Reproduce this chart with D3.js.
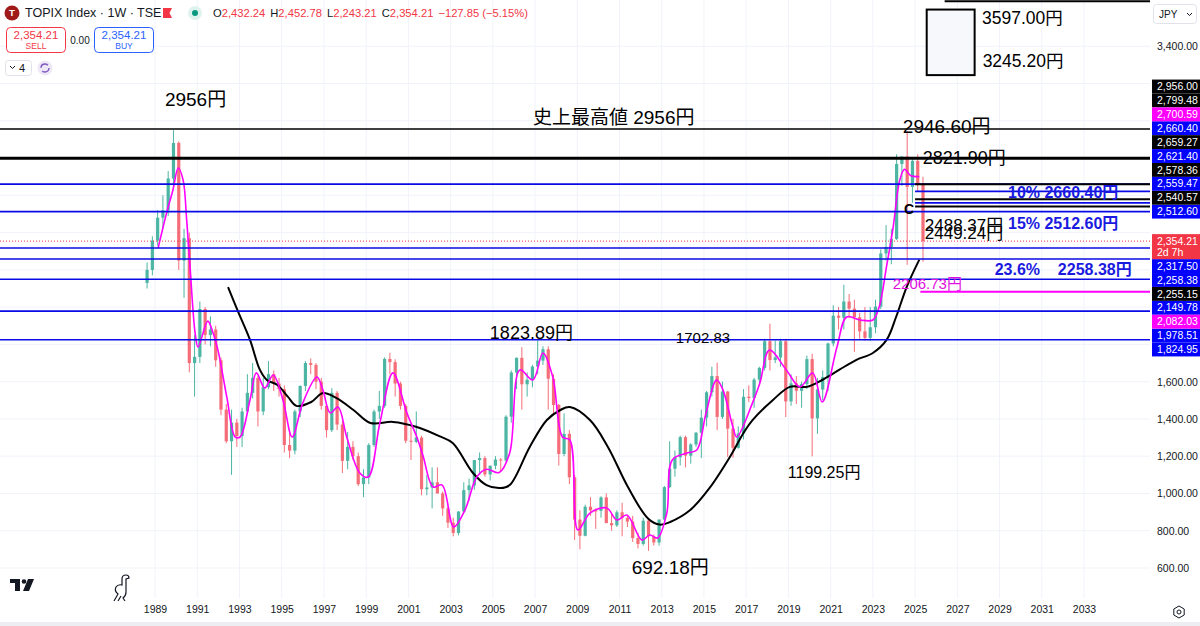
<!DOCTYPE html>
<html>
<head>
<meta charset="utf-8">
<title>TOPIX Index 1W</title>
<script src="https://cdn.jsdelivr.net/npm/d3@7/dist/d3.min.js"></script>
<style>
  body { margin: 0; background: #fff; }
  svg { display: block; font-family: "Liberation Sans", "Noto Sans CJK JP", sans-serif; }
</style>
</head>
<body>
<svg id="chart" width="1200" height="626"></svg>
<script>
// bars, one per quarter, starting Jul 1988
const firstQuarter = 1988.5;

const opens = [
  2130, 2200,
  2357, 2480, 2520, 2690,   // 1989
  2881, 2250, 2370, 1700,
  1733, 1990, 1850, 1880,
  1715, 1450, 1280, 1380,
  1308, 1440, 1540, 1620,
  1440, 1570, 1640, 1590,
  1560, 1260, 1230, 1440,   // 1995
  1577, 1700, 1690, 1600,
  1470, 1340, 1540, 1370,
  1175, 1250, 1200, 1050,
  1086, 1260, 1440, 1470,
  1722, 1705, 1590, 1470,   // 2000
  1283, 1277, 1300, 1023,
  1032, 1060, 1000, 920,
  843, 788, 903, 1018,
  1043, 1179, 1190, 1102,
  1149, 1182, 1177, 1412,   // 2005
  1649, 1728, 1586, 1610,
  1681, 1713, 1774, 1616,
  1475, 1212, 1320, 1087,
  860, 773, 929, 909,
  907, 979, 841, 829,       // 2010
  899, 869, 849, 761,
  729, 854, 770, 737,
  860, 1034, 1133, 1194,
  1302, 1203, 1263, 1326,
  1407, 1543, 1630, 1411,   // 2015
  1547, 1348, 1245, 1322,
  1519, 1512, 1611, 1674,
  1817, 1716, 1730, 1817,
  1494, 1591, 1551, 1587,
  1721, 1403, 1558, 1625,   // 2020
  1805, 1954, 1943, 2030,
  1992, 1946, 1870, 1835,
  1892, 2003, 2288, 2323,
  2366, 2768, 2809, 2645,
  2785, 2659
];
const highs = [
  2240, 2380,
  2520, 2600, 2730, 2950,
  2890, 2420, 2400, 1850,
  2030, 2000, 1950, 1900,
  1730, 1480, 1450, 1400,
  1460, 1640, 1700, 1630,
  1620, 1710, 1660, 1620,
  1580, 1330, 1450, 1580,
  1710, 1725, 1700, 1620,
  1480, 1565, 1550, 1390,
  1330, 1280, 1220, 1130,
  1270, 1450, 1550, 1730,
  1755, 1720, 1600, 1480,
  1360, 1440, 1310, 1100,
  1140, 1140, 1010, 930,
  870, 905, 1060, 1080,
  1180, 1220, 1200, 1150,
  1200, 1190, 1420, 1660,
  1730, 1785, 1650, 1690,
  1820, 1790, 1790, 1640,
  1480, 1430, 1340, 1100,
  910, 940, 980, 920,
  985, 1000, 890, 910,
  950, 880, 880, 790,
  870, 870, 780, 860,
  1040, 1280, 1230, 1310,
  1310, 1270, 1330, 1450,
  1550, 1680, 1702, 1600,
  1550, 1400, 1360, 1560,
  1580, 1620, 1680, 1830,
  1911, 1820, 1830, 1830,
  1640, 1630, 1600, 1740,
  1750, 1620, 1660, 1810,
  2010, 2000, 2120, 2070,
  2040, 1970, 2000, 2000,
  2040, 2310, 2440, 2420,
  2820, 2800, 2946.6, 2800,
  2820, 2700
];
const lows = [
  2100, 2170,
  2330, 2420, 2490, 2640,
  2200, 2050, 1650, 1520,
  1700, 1800, 1790, 1680,
  1420, 1270, 1100, 1250,
  1250, 1430, 1510, 1360,
  1420, 1560, 1550, 1520,
  1220, 1190, 1210, 1410,
  1550, 1640, 1560, 1450,
  1300, 1330, 1340, 1110,
  1130, 1180, 1040, 980,
  1050, 1250, 1400, 1460,
  1640, 1520, 1450, 1270,
  1180, 1270, 990, 990,
  920, 1000, 880, 815,
  770, 775, 900, 960,
  1020, 1100, 1090, 1070,
  1130, 1120, 1170, 1380,
  1560, 1450, 1520, 1570,
  1640, 1690, 1450, 1420,
  1150, 1200, 1050, 750,
  700, 770, 880, 810,
  870, 840, 800, 820,
  770, 820, 740, 705,
  720, 692, 720, 720,
  850, 1030, 1090, 1150,
  1140, 1160, 1250, 1190,
  1360, 1520, 1340, 1400,
  1196, 1192, 1240, 1290,
  1490, 1460, 1590, 1660,
  1660, 1700, 1680, 1410,
  1470, 1480, 1460, 1560,
  1199, 1320, 1500, 1550,
  1790, 1880, 1880, 1940,
  1760, 1830, 1820, 1820,
  1860, 1990, 2250, 2230,
  2360, 2650, 2227, 2560,
  2620, 2243.21
];
const closes = [
  2200, 2357,
  2480, 2520, 2690, 2881,
  2250, 2370, 1700, 1733,
  1990, 1850, 1880, 1715,
  1450, 1280, 1380, 1308,
  1440, 1540, 1620, 1440,
  1570, 1640, 1590, 1560,
  1260, 1230, 1440, 1577,
  1700, 1690, 1600, 1470,
  1340, 1540, 1370, 1175,
  1250, 1200, 1050, 1086,
  1260, 1440, 1470, 1722,
  1705, 1590, 1470, 1283,
  1277, 1300, 1023, 1032,
  1060, 1000, 920, 843,
  788, 903, 1018, 1043,
  1179, 1190, 1102, 1149,
  1182, 1177, 1412, 1649,
  1728, 1586, 1610, 1681,
  1713, 1774, 1616, 1475,
  1212, 1320, 1087, 860,
  773, 929, 909, 907,
  979, 841, 829, 899,
  869, 849, 761, 729,
  854, 770, 737, 860,
  1034, 1133, 1194, 1302,
  1203, 1263, 1326, 1407,
  1543, 1630, 1411, 1547,
  1348, 1245, 1322, 1519,
  1512, 1611, 1674, 1817,
  1716, 1730, 1817, 1494,
  1591, 1551, 1587, 1721,
  1403, 1558, 1625, 1805,
  1954, 1943, 2030, 1992,
  1946, 1870, 1835, 1892,
  2003, 2288, 2323, 2366,
  2768, 2809, 2645, 2785,
  2659, 2354.21
];

// magenta (short) and black (long) moving averages, read at points along the curves
const fastMaYears = [1989.15, 1989.55, 1989.85, 1990.1, 1990.33, 1990.5, 1990.66, 1990.9, 1991.04, 1991.5,
  1991.75, 1992.0, 1992.4, 1992.8, 1993.03, 1993.5, 1993.8, 1994.2, 1994.6, 1995.06,
  1995.5, 1996.0, 1996.67, 1996.95, 1997.3, 1997.67, 1998.08, 1998.7, 1999.1, 1999.65,
  2000.27, 2000.93, 2001.4, 2001.7, 2002.17, 2002.6, 2003.15, 2003.68, 2004.24, 2004.7,
  2005.3, 2005.8, 2006.28, 2006.9, 2007.37, 2007.84, 2008.3, 2008.65, 2009.03, 2009.6,
  2010.4, 2010.87, 2011.35, 2012.06, 2012.44, 2012.8, 2013.24, 2013.5, 2014.2, 2014.66,
  2015.1, 2015.6, 2015.9, 2016.37, 2016.55, 2017.3, 2017.65, 2018.1, 2018.9, 2019.55,
  2020.15, 2020.6, 2021.3, 2021.76, 2022.4, 2023.0, 2023.3, 2023.65, 2023.95, 2024.27,
  2024.5, 2024.8, 2025.2];
const fastMaValues = [2318, 2506, 2629, 2747, 2683, 2468, 2216, 1861, 1786, 1925,
  1861, 1760, 1518, 1303, 1303, 1502, 1647, 1566, 1636, 1502,
  1303, 1486, 1625, 1556, 1432, 1464, 1303, 1110, 1088, 1378,
  1647, 1432, 1303, 1200, 1035, 1045, 820, 911, 1088, 1130,
  1112, 1217, 1663, 1609, 1754, 1625, 1303, 1287, 804, 895,
  922, 858, 884, 750, 777, 761, 895, 1180, 1217, 1233,
  1432, 1609, 1556, 1357, 1303, 1486, 1593, 1770, 1663, 1572,
  1647, 1491, 1786, 1947, 1931, 1931, 2001, 2220, 2420, 2680,
  2740, 2705, 2700.59];

const slowMaYears = [1992.46, 1992.9, 1993.5, 1993.97, 1994.3, 1994.8, 1995.3, 1995.7, 1996.4, 1996.95,
  1997.6, 1998.4, 1999.2, 2000.27, 2001.4, 2002.5, 2003.1, 2004.06, 2004.7, 2005.35,
  2005.8, 2006.75, 2007.56, 2008.2, 2008.65, 2009.6, 2010.45, 2011.4, 2012.35, 2012.9,
  2013.4, 2014.35, 2015.25, 2016.25, 2016.9, 2017.3, 2018.27, 2019.07, 2019.87, 2020.6,
  2021.4, 2022.2, 2023.0, 2023.65, 2024.1, 2024.6, 2025.2];
const slowMaValues = [2108, 1985, 1824, 1663, 1609, 1582, 1518, 1470, 1491, 1539,
  1512, 1448, 1378, 1384, 1357, 1306, 1271, 1110, 1045, 1029,
  1045, 1250, 1394, 1448, 1464, 1394, 1250, 1035, 866, 833,
  847, 911, 1027, 1200, 1330, 1394, 1502, 1572, 1572, 1609,
  1663, 1716, 1754, 1824, 1947, 2108, 2255.15];

// horizontal drawings
const blackLevels = [2956.00, 2799.48];
const blueLevels = [2660.40, 2512.60, 2317.50, 2258.38, 2149.78, 1978.51, 1824.95];
const blackRays = [2659.27, 2578.36, 2540.57];
const blueRays = [2621.40, 2559.47];
const magentaRays = [2082.03];
const rayFrom = 2025.0;
const magentaRayFrom = 2025.25;

// rectangle drawn in the future area
const boxYears = [2025.55, 2027.82];
const boxPrices = [3597.00, 3245.20];
const topLine = [2026.4, 3642];

// header values of the last weekly bar
const symbolName = 'TOPIX Index';
const interval = '1W';
const exchange = 'TSE';
const lastBar = [2432.24, 2452.78, 2243.21, 2354.21];
const lastChange = -127.85;
const lastChangePct = -5.15;
const timeLeft = '2d 7h';

const yearTicks = d3.range(1989, 2034, 2);
const priceTicks = d3.range(600, 3401, 200);

// text notes: [text, year, price, font size]
const blackNotes = [
  ['2956円', 1989.47, 3117, 19],
  ['史上最高値 2956円', 2006.9, 3020, 19],
  ['2946.60円', 2024.42, 2972, 19],
  ['2821.90円', 2025.36, 2800, 18],
  ['2488.37円', 2025.46, 2441, 17],
  ['2449.24円', 2025.46, 2398, 17],
  ['1823.89円', 2004.86, 1861, 18],
  ['1702.83', 2013.67, 1834, 15],
  ['692.18円', 2011.58, 605, 19],
  ['1199.25円', 2018.97, 1115, 16],
  ['3597.00円', 2028.17, 3552, 17.5],
  ['3245.20円', 2028.2, 3321, 17.5]
];
const blueNotes = [
  ['10% 2660.40円', 2029.4, 2618],
  ['15% 2512.60円', 2029.4, 2451],
  ['23.6%\u00a0\u00a0\u00a0\u00a02258.38円', 2028.77, 2205]
];
const magentaNotes = [['2206.73円', 2023.94, 2124]];

// ---------------------------------------------------------------

const svg = d3.select('#chart');
const plotRight = 1150, plotBottom = 598;
const fmt = d3.format(',.2f');

const x = d3.scaleLinear().domain([1989, 2033]).range([155, 1084]);
const y = d3.scaleLinear().domain([600, 2956]).range([568, 129]);

svg.append('defs').append('clipPath').attr('id', 'plotClip')
  .append('rect').attr('x', 0).attr('y', 0).attr('width', plotRight).attr('height', plotBottom);

// grid
const grid = svg.append('g');
grid.selectAll('.hg').data(priceTicks).join('line')
  .attr('x1', 0).attr('x2', plotRight)
  .attr('y1', d => y(d)).attr('y2', d => y(d))
  .attr('stroke', '#f0f3fa');
grid.selectAll('.vg').data(yearTicks).join('line')
  .attr('x1', d => x(d)).attr('x2', d => x(d))
  .attr('y1', 0).attr('y2', plotBottom)
  .attr('stroke', '#f0f3fa');

const plot = svg.append('g').attr('clip-path', 'url(#plotClip)');

// candles
const bars = closes.map((c, i) => ({
  t: firstQuarter + i * 0.25 + 0.125,
  o: opens[i], h: highs[i], l: lows[i], c: c
}));
const bodyW = 3.2;
const candle = plot.append('g').attr('opacity', 0.72)
  .selectAll('g').data(bars).join('g')
  .attr('fill', d => d.c >= d.o ? '#089981' : '#f23645')
  .attr('stroke', d => d.c >= d.o ? '#089981' : '#f23645');
candle.append('line')
  .attr('x1', d => x(d.t)).attr('x2', d => x(d.t))
  .attr('y1', d => y(d.h)).attr('y2', d => y(d.l))
  .attr('stroke-width', 1);
candle.append('rect')
  .attr('x', d => x(d.t) - bodyW / 2)
  .attr('y', d => y(Math.max(d.o, d.c)))
  .attr('width', bodyW)
  .attr('height', d => Math.max(1, Math.abs(y(d.o) - y(d.c))))
  .attr('stroke', 'none');

// moving averages
const maLine = d3.line().x(d => x(d[0])).y(d => y(d[1])).curve(d3.curveCatmullRom.alpha(0.5));
plot.append('path').datum(d3.zip(slowMaYears, slowMaValues))
  .attr('d', maLine).attr('fill', 'none').attr('stroke', '#000').attr('stroke-width', 2);
plot.append('path').datum(d3.zip(fastMaYears, fastMaValues))
  .attr('d', maLine).attr('fill', 'none').attr('stroke', '#f0f').attr('stroke-width', 1.6);

// current price dotted line
const lastClose = closes[closes.length - 1];
plot.append('line')
  .attr('x1', 0).attr('x2', plotRight)
  .attr('y1', y(lastClose)).attr('y2', y(lastClose))
  .attr('stroke', '#f23645').attr('stroke-dasharray', '1,2');

// horizontal lines and rays
const hLine = (levels, from, color, width) => {
  plot.append('g').selectAll('line').data(levels).join('line')
    .attr('x1', from === null ? 0 : x(from)).attr('x2', plotRight)
    .attr('y1', d => y(d)).attr('y2', d => y(d))
    .attr('stroke', color).attr('stroke-width', width);
};
hLine(blueLevels, null, '#0a0ae6', 1.6);
hLine([blackLevels[0]], null, '#000', 1.6);
hLine([blackLevels[1]], null, '#000', 3);
hLine(blueRays, rayFrom, '#0a0ae6', 1.6);
hLine(blackRays, rayFrom, '#000', 2);
hLine(magentaRays, magentaRayFrom, '#f0f', 2);

// rectangle drawing
plot.append('rect')
  .attr('x', x(boxYears[0])).attr('y', y(boxPrices[0]))
  .attr('width', x(boxYears[1]) - x(boxYears[0]))
  .attr('height', y(boxPrices[1]) - y(boxPrices[0]))
  .attr('fill', '#f7f8fb').attr('stroke', '#000').attr('stroke-width', 2);
plot.append('line')
  .attr('x1', x(topLine[0])).attr('x2', plotRight)
  .attr('y1', y(topLine[1])).attr('y2', y(topLine[1]))
  .attr('stroke', '#000').attr('stroke-width', 2);

// notes
const notes = plot.append('g');
notes.selectAll('.bn').data(blackNotes).join('text')
  .attr('x', d => x(d[1])).attr('y', d => y(d[2])).attr('dy', '0.35em')
  .attr('font-size', d => d[3]).attr('fill', '#000')
  .text(d => d[0]);
notes.selectAll('.bl').data(blueNotes).join('text')
  .attr('x', d => x(d[1])).attr('y', d => y(d[2])).attr('dy', '0.35em')
  .attr('font-size', 16).attr('font-weight', 'bold').attr('fill', '#1a1ae0')
  .text(d => d[0]);
notes.selectAll('.mg').data(magentaNotes).join('text')
  .attr('x', d => x(d[1])).attr('y', d => y(d[2])).attr('dy', '0.35em')
  .attr('font-size', 15).attr('fill', '#e010e0')
  .text(d => d[0]);
notes.append('text')
  .attr('x', x(2024.47)).attr('y', y(2527)).attr('dy', '0.35em')
  .attr('font-size', 14).attr('font-weight', 'bold').attr('fill', '#000')
  .text('C');

// price tags on the axis, stacked away from the current price tag
const tags = [
  ...blackLevels.map(v => ({ v, fill: '#000' })),
  ...blueLevels.map(v => ({ v, fill: '#0000ff' })),
  ...blackRays.map(v => ({ v, fill: '#000' })),
  ...blueRays.map(v => ({ v, fill: '#0000ff' })),
  ...magentaRays.map(v => ({ v, fill: '#ff00ff' })),
  { v: fastMaValues[fastMaValues.length - 1], fill: '#ff00ff' },
  { v: slowMaValues[slowMaValues.length - 1], fill: '#000' }
];
const tagH = 13.9;
const curY = y(lastClose);
const curTop = curY - 7, curBottom = curY + 18;
const above = tags.filter(d => d.v > lastClose).sort((a, b) => a.v - b.v);
const below = tags.filter(d => d.v < lastClose).sort((a, b) => b.v - a.v);
let edge = curTop - tagH / 2;
above.forEach(d => { d.y = Math.min(y(d.v), edge); edge = d.y - tagH; });
edge = curBottom + tagH / 2;
below.forEach(d => { d.y = Math.max(y(d.v), edge); edge = d.y + tagH; });

// price axis, hiding tick labels that sit under a tag
const tagTop = d3.min(tags, d => d.y) - tagH / 2;
const tagBottom = d3.max(tags, d => d.y) + tagH / 2;
const visibleTicks = priceTicks.filter(v => y(v) + 5 < tagTop || y(v) - 5 > tagBottom ||
  (y(v) + 4 < curTop && y(v) - 5 > d3.max(above, d => d.y) + tagH / 2));
const yAxis = svg.append('g')
  .attr('transform', `translate(${plotRight + 3},0)`)
  .call(d3.axisRight(y).tickValues(visibleTicks).tickFormat(fmt).tickSize(0).tickPadding(4));
yAxis.select('.domain').remove();
yAxis.attr('font-family', null).attr('font-size', 10.5);
yAxis.selectAll('text').attr('fill', '#131722');

// time axis
const xAxis = svg.append('g')
  .attr('transform', 'translate(0,606)')
  .call(d3.axisBottom(x).tickValues(yearTicks).tickFormat(d3.format('d')).tickSize(0).tickPadding(0));
xAxis.select('.domain').remove();
xAxis.attr('font-family', null).attr('font-size', 10.5);
xAxis.selectAll('text').attr('fill', '#131722');

const tagG = svg.append('g').selectAll('g').data(tags).join('g');
tagG.append('rect')
  .attr('x', plotRight + 2).attr('y', d => d.y - tagH / 2)
  .attr('width', 48).attr('height', tagH).attr('fill', d => d.fill);
tagG.append('text')
  .attr('x', plotRight + 7).attr('y', d => d.y).attr('dy', '0.35em')
  .attr('font-size', 10.5).attr('fill', '#fff')
  .text(d => fmt(d.v));

const curTag = svg.append('g');
curTag.append('rect')
  .attr('x', plotRight + 2).attr('y', curTop)
  .attr('width', 48).attr('height', curBottom - curTop).attr('fill', '#f23645');
curTag.append('text')
  .attr('x', plotRight + 7).attr('y', curY).attr('dy', '0.35em')
  .attr('font-size', 10.5).attr('fill', '#fff').text(fmt(lastClose));
curTag.append('text')
  .attr('x', plotRight + 7).attr('y', curY + 11).attr('dy', '0.35em')
  .attr('font-size', 10.5).attr('fill', '#fff').text(timeLeft);

// currency selector
svg.append('rect').attr('x', 1153.5).attr('y', 4.5).attr('width', 43).attr('height', 19).attr('rx', 3)
  .attr('fill', '#fff').attr('stroke', '#e0e3eb');
svg.append('text').attr('x', 1159).attr('y', 14).attr('dy', '0.35em')
  .attr('font-size', 10).attr('fill', '#131722').text('JPY');
svg.append('path').attr('d', 'M1187,13 l2.5,2.5 l2.5,-2.5')
  .attr('fill', 'none').attr('stroke', '#131722').attr('stroke-width', 1);

// header
const head = svg.append('g');
head.append('circle').attr('cx', 12).attr('cy', 13).attr('r', 7.5).attr('fill', '#a11a1a');
head.append('text').attr('x', 12).attr('y', 13).attr('dy', '0.36em').attr('text-anchor', 'middle')
  .attr('font-size', 9.5).attr('font-weight', 'bold').attr('fill', '#fff').text('T');
head.append('text').attr('x', 25).attr('y', 13).attr('dy', '0.35em')
  .attr('font-size', 12.5).attr('fill', '#131722')
  .text(`${symbolName} · ${interval} · ${exchange}`);
head.append('path').attr('d', 'M163,8 h9 l-2.5,5 l2.5,5 h-9 z').attr('fill', '#f23645');
head.append('circle').attr('cx', 195).attr('cy', 13).attr('r', 7).attr('fill', '#dff3ee');
head.append('circle').attr('cx', 195).attr('cy', 13).attr('r', 3).attr('fill', '#089981');

const ohlc = head.append('text').attr('x', 213).attr('y', 13).attr('dy', '0.35em').attr('font-size', 11.2);
['O', 'H', 'L', 'C'].forEach((k, i) => {
  ohlc.append('tspan').attr('dx', i ? 5 : 0).attr('fill', '#131722').text(k);
  ohlc.append('tspan').attr('fill', '#f23645').text(fmt(lastBar[i]));
});
ohlc.append('tspan').attr('dx', 5).attr('fill', '#f23645')
  .text(`${fmt(lastChange)} (${d3.format('.2f')(lastChangePct)}%)`);

// sell / buy buttons
const button = (x0, color, label) => {
  head.append('rect').attr('x', x0).attr('y', 27.5).attr('width', 59).attr('height', 25).attr('rx', 4)
    .attr('fill', '#fff').attr('stroke', color);
  head.append('text').attr('x', x0 + 29.5).attr('y', 35).attr('dy', '0.35em').attr('text-anchor', 'middle')
    .attr('font-size', 11.5).attr('fill', color).text(fmt(lastClose));
  head.append('text').attr('x', x0 + 29.5).attr('y', 46.5).attr('dy', '0.35em').attr('text-anchor', 'middle')
    .attr('font-size', 8.5).attr('fill', color).text(label);
};
button(6.5, '#f23645', 'SELL');
button(94.5, '#2962ff', 'BUY');
head.append('text').attr('x', 80).attr('y', 40).attr('dy', '0.35em').attr('text-anchor', 'middle')
  .attr('font-size', 10).attr('fill', '#131722').text('0.00');

head.append('rect').attr('x', 5.5).attr('y', 60.5).attr('width', 26).attr('height', 15).attr('rx', 3)
  .attr('fill', '#fff').attr('stroke', '#e0e3eb');
head.append('path').attr('d', 'M10,66 l2.5,2.5 l2.5,-2.5').attr('fill', 'none').attr('stroke', '#131722');
head.append('text').attr('x', 19).attr('y', 68).attr('dy', '0.35em').attr('font-size', 11).attr('fill', '#131722').text('4');
head.append('circle').attr('cx', 45).attr('cy', 68).attr('r', 7.5).attr('fill', '#ede7f6');
head.append('circle').attr('cx', 45).attr('cy', 68).attr('r', 4).attr('fill', 'none')
  .attr('stroke', '#7e57c2').attr('stroke-width', 1.5).attr('stroke-dasharray', '9,3.5');

// logo, mascot, settings
const foot = svg.append('g').attr('fill', '#131722');
foot.append('path').attr('d', 'M10,579 h10 v12 h-5 v-8 h-5 z');
foot.append('circle').attr('cx', 24).attr('cy', 581.5).attr('r', 2.3);
foot.append('path').attr('d', 'M28,579 h6 l-5,12 h-6 z');
svg.append('path')
  .attr('d', 'M114,601 l4,-7 q-4,-3 -2,-7 q2,-3 6,-2 l0,-6 q0,-4 4,-4 q3,0 3,3 l-3,1 l0,13 q0,4 -3,6 l2,3 M118,601 l3,-5')
  .attr('fill', 'none').attr('stroke', '#131722').attr('stroke-width', 1.2);
svg.append('path').attr('d', 'M1179,606 l5.2,3 v6 l-5.2,3 l-5.2,-3 v-6 z')
  .attr('fill', 'none').attr('stroke', '#131722').attr('stroke-width', 1);
svg.append('circle').attr('cx', 1179).attr('cy', 612).attr('r', 2)
  .attr('fill', 'none').attr('stroke', '#131722').attr('stroke-width', 1);
svg.append('rect').attr('x', 0).attr('y', 622).attr('width', 1200).attr('height', 4).attr('fill', '#eceef2');
</script>
</body>
</html>
